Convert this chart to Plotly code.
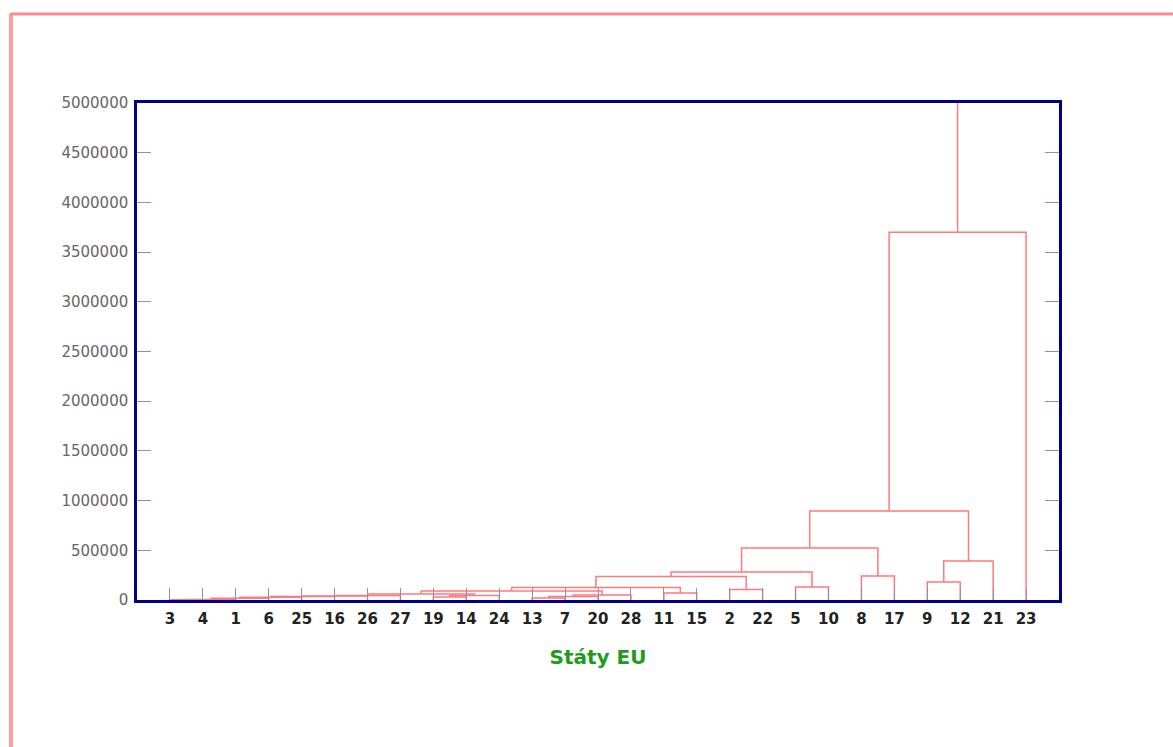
import plotly.graph_objects as go

# ---- data ----
leaf_order = [3, 4, 1, 6, 25, 16, 26, 27, 19, 14, 24, 13, 7, 20, 28, 11, 15,
              2, 22, 5, 10, 8, 17, 9, 12, 21, 23]

# merges: (cluster name, left member, right member, linkage distance)
merge_names = ["m1", "m2", "m3", "m4", "m5", "m6", "m7", "m8", "m9", "m10",
               "m11", "m12", "m13", "m14", "m15", "m16", "m17", "m18", "m19",
               "m20", "m21", "m22", "m23", "m24", "m25", "m26"]
merge_left = [3, "m1", "m2", "m3", "m4", "m5", "m6", 19, "m8", "m7",
              13, "m11", "m12", "m10", 11, "m14", 2, "m16", 5,
              "m18", 8, "m20", 9, "m23", "m22", "m25"]
merge_right = [4, 1, 6, 25, 16, 26, 27, 14, 24, "m9",
               7, 20, 28, "m13", 15, "m15", 22, "m17", 10,
               "m19", 17, "m21", 12, 21, "m24", 23]
merge_height = [2000, 5000, 18000, 28000, 35000, 40000, 45000, 30000, 45000, 60000,
                20000, 35000, 50000, 90000, 70000, 125000, 105000, 236000, 130000,
                282000, 241000, 523000, 181000, 392000, 895000, 3700000]
root_top = 5000000

y_ticks = [0, 500000, 1000000, 1500000, 2000000, 2500000, 3000000,
           3500000, 4000000, 4500000, 5000000]

# ---- build dendrogram segments ----
pos = {lab: i + 1 for i, lab in enumerate(leaf_order)}
hgt = {lab: 0 for lab in leaf_order}
xs, ys = [], []
for name, a, b, h in zip(merge_names, merge_left, merge_right, merge_height):
    xa, xb = pos[a], pos[b]
    xs += [xa, xa, xb, xb, None]
    ys += [hgt[a], h, h, hgt[b], None]
    pos[name] = (xa + xb) / 2
    hgt[name] = h
last = merge_names[-1]
xs += [pos[last], pos[last], None]
ys += [hgt[last], root_top, None]

fig = go.Figure()
fig.add_trace(go.Scatter(x=xs, y=ys, mode="lines",
                         line=dict(color="#ff7a7a", width=1.5),
                         hoverinfo="skip", showlegend=False))

n = len(leaf_order)
fig.update_layout(
    width=1173, height=747,
    margin=dict(l=137, r=114, t=103, b=147),
    paper_bgcolor="white", plot_bgcolor="white",
    showlegend=False,
    font=dict(family="DejaVu Sans, sans-serif"),
    xaxis=dict(
        range=[0, n + 1],
        tickmode="array",
        tickvals=list(range(1, n + 1)),
        ticktext=["<b>%d</b>" % v for v in leaf_order],
        tickfont=dict(family="DejaVu Sans, sans-serif", size=15, color="#222222"),
        ticks="inside", ticklen=12, tickwidth=1, tickcolor="#8c8cc8",
        ticklabelstandoff=3,
        showline=True, linecolor="#00008b", linewidth=2.5, mirror=True,
        showgrid=False, zeroline=False,
        title=dict(text="<b>Státy EU</b>",
                   font=dict(family="DejaVu Sans, sans-serif", size=20, color="#1e9a1e"),
                   standoff=24),
    ),
    yaxis=dict(
        range=[0, root_top],
        tickmode="array",
        tickvals=y_ticks,
        ticktext=[str(v) for v in y_ticks],
        tickfont=dict(family="DejaVu Sans, sans-serif", size=15, color="#666666"),
        ticks="inside", ticklen=14, tickwidth=1, tickcolor="#8c8cc8",
        ticklabelstandoff=3,
        showline=True, linecolor="#00008b", linewidth=2.5, mirror="ticks",
        showgrid=False, zeroline=False,
    ),
    shapes=[
        dict(type="line", xref="paper", yref="paper",
             x0=(11 - 137) / 922, x1=(11 - 137) / 922,
             y0=(600 - 13) / 497, y1=(600 - 760) / 497,
             line=dict(color="#ff9c9c", width=4)),
        dict(type="line", xref="paper", yref="paper",
             x0=(11 - 137) / 922, x1=(1180 - 137) / 922,
             y0=(600 - 14) / 497, y1=(600 - 14) / 497,
             line=dict(color="#ff8c8c", width=3)),
    ],
)

fig.write_html("out.html")
